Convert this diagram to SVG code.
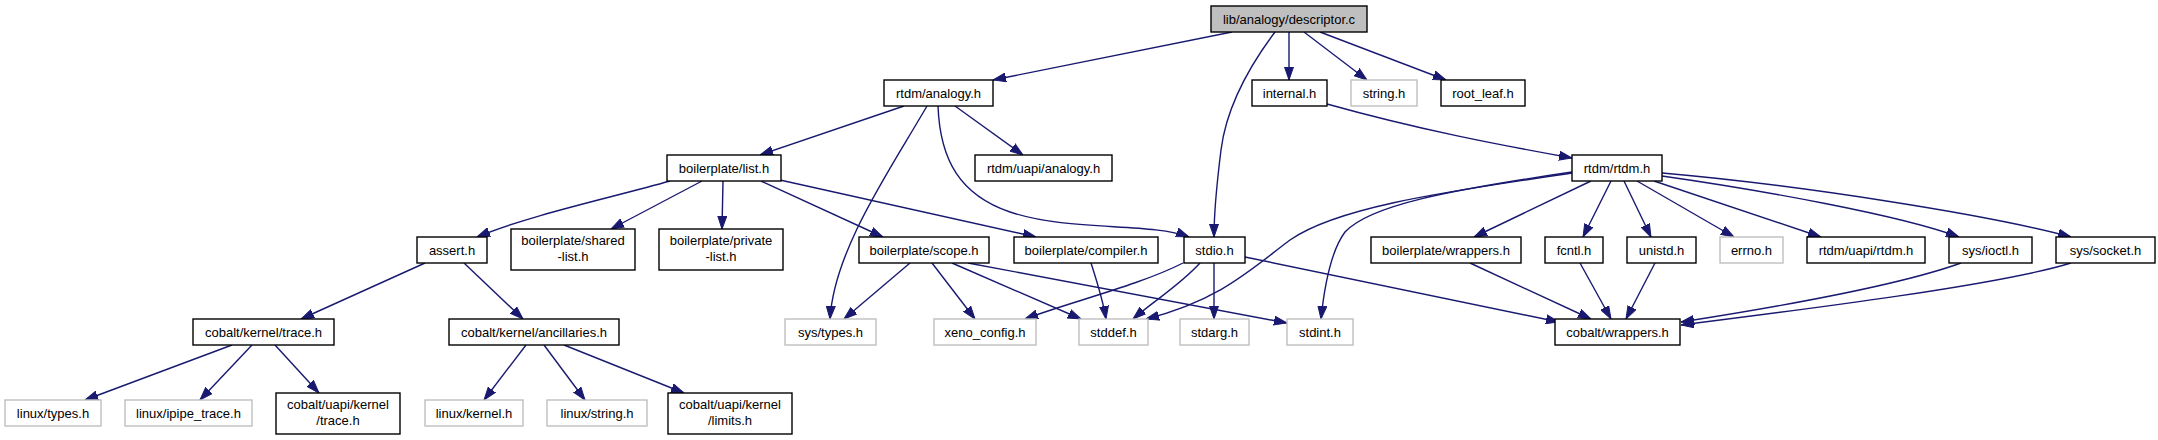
<svg xmlns="http://www.w3.org/2000/svg" width="2158" height="440" viewBox="0 0 2158 440">
<defs>
<marker id="arr" viewBox="0 0 13 10" refX="13" refY="5" markerWidth="13" markerHeight="10" markerUnits="userSpaceOnUse" orient="auto">
<path d="M0,0.5 L13,5 L0,9.5 z" fill="#191970" stroke="#191970" stroke-width="1"/>
</marker>
</defs>
<style>
.n rect{fill:#fff;stroke:#000;stroke-width:1.4}
.g rect{fill:#fff;stroke:#bfbfbf;stroke-width:1.4}
.r rect{fill:#bfbfbf;stroke:#000;stroke-width:1.4}
text{font-family:"Liberation Sans",Arial,sans-serif;font-size:13px;fill:#000;text-anchor:middle}
#edges path{fill:none;stroke:#191970;stroke-width:1.4;marker-end:url(#arr)}
</style>
<rect width="2158" height="440" fill="#fff"/>
<g id="edges">
<path d="M1232,32 L993,80"/>
<path d="M1275,32 C1245,72 1226,110 1221,150 C1216,190 1214,210 1214,237"/>
<path d="M1289,32 L1289,80"/>
<path d="M1304,32 L1367,80"/>
<path d="M1320,32 L1446,80"/>
<path d="M904,106 L760,155"/>
<path d="M927,106 C890,170 834,250 830,319"/>
<path d="M938,106 C940,160 960,195 1010,212 C1070,232 1150,222 1189,237"/>
<path d="M955,106 L1023,155"/>
<path d="M670,181 C610,198 530,215 477,237"/>
<path d="M702,181 L611,229"/>
<path d="M723,181 L722,229"/>
<path d="M761,181 L883,237"/>
<path d="M780,180 L1036,237"/>
<path d="M425,263 L301,319"/>
<path d="M464,263 L523,319"/>
<path d="M232,345 L85,400"/>
<path d="M252,345 L200,400"/>
<path d="M275,345 L319,393"/>
<path d="M526,345 L484,400"/>
<path d="M544,345 L585,400"/>
<path d="M564,345 L684,393"/>
<path d="M910,263 L844,319"/>
<path d="M932,263 L975,319"/>
<path d="M952,263 L1081,319"/>
<path d="M968,263 L1287,323"/>
<path d="M1091,263 C1098,285 1103,300 1106,319"/>
<path d="M1183,263 C1140,285 1070,302 1025,319"/>
<path d="M1200,263 C1180,285 1155,300 1133,319"/>
<path d="M1214,263 L1214,319"/>
<path d="M1245,257 L1559,322"/>
<path d="M1572,173 C1460,190 1340,205 1290,240 C1250,270 1220,300 1146,319"/>
<path d="M1572,172 C1450,190 1370,205 1345,232 C1330,252 1324,290 1321,319"/>
<path d="M1591,181 L1474,237"/>
<path d="M1611,181 L1583,237"/>
<path d="M1624,181 L1651,237"/>
<path d="M1637,181 L1734,237"/>
<path d="M1654,181 L1821,237"/>
<path d="M1662,176 C1760,190 1900,215 1959,237"/>
<path d="M1662,173 C1800,185 1990,215 2071,237"/>
<path d="M1470,263 L1591,319"/>
<path d="M1580,263 L1611,319"/>
<path d="M1655,263 L1626,319"/>
<path d="M1961,263 C1900,285 1790,305 1681,322"/>
<path d="M2071,263 C2000,285 1800,310 1681,325"/>
<path d="M1327,104 C1420,130 1500,145 1572,158"/>
</g>
<g id="n_root" class="r"><rect x="1211" y="6" width="156" height="26"/><text x="1289" y="23.5">lib/analogy/descriptor.c</text></g>
<g id="n_rtdm_analogy" class="n"><rect x="884" y="80" width="109" height="26"/><text x="938.5" y="97.5">rtdm/analogy.h</text></g>
<g id="n_internal" class="n"><rect x="1252" y="80" width="75" height="26"/><text x="1289.5" y="97.5">internal.h</text></g>
<g id="n_string" class="g"><rect x="1351" y="80" width="66" height="26"/><text x="1384" y="97.5">string.h</text></g>
<g id="n_root_leaf" class="n"><rect x="1441" y="80" width="84" height="26"/><text x="1483" y="97.5">root_leaf.h</text></g>
<g id="n_bp_list" class="n"><rect x="667" y="155" width="114" height="26"/><text x="724" y="172.5">boilerplate/list.h</text></g>
<g id="n_uapi_analogy" class="n"><rect x="975" y="155" width="137" height="26"/><text x="1043.5" y="172.5">rtdm/uapi/analogy.h</text></g>
<g id="n_rtdm_rtdm" class="n"><rect x="1572" y="155" width="90" height="26"/><text x="1617" y="172.5">rtdm/rtdm.h</text></g>
<g id="n_assert" class="n"><rect x="417" y="237" width="70" height="26"/><text x="452" y="254.5">assert.h</text></g>
<g id="n_shared_list" class="n"><rect x="511" y="229" width="124" height="41"/><text x="573" y="245">boilerplate/shared</text><text x="573" y="261">-list.h</text></g>
<g id="n_private_list" class="n"><rect x="659" y="229" width="124" height="41"/><text x="721" y="245">boilerplate/private</text><text x="721" y="261">-list.h</text></g>
<g id="n_scope" class="n"><rect x="859" y="237" width="130" height="26"/><text x="924" y="254.5">boilerplate/scope.h</text></g>
<g id="n_compiler" class="n"><rect x="1014" y="237" width="144" height="26"/><text x="1086" y="254.5">boilerplate/compiler.h</text></g>
<g id="n_stdio" class="n"><rect x="1184" y="237" width="61" height="26"/><text x="1214.5" y="254.5">stdio.h</text></g>
<g id="n_bp_wrappers" class="n"><rect x="1371" y="237" width="150" height="26"/><text x="1446" y="254.5">boilerplate/wrappers.h</text></g>
<g id="n_fcntl" class="n"><rect x="1545" y="237" width="58" height="26"/><text x="1574" y="254.5">fcntl.h</text></g>
<g id="n_unistd" class="n"><rect x="1627" y="237" width="69" height="26"/><text x="1661.5" y="254.5">unistd.h</text></g>
<g id="n_errno" class="g"><rect x="1720" y="237" width="63" height="26"/><text x="1751.5" y="254.5">errno.h</text></g>
<g id="n_uapi_rtdm" class="n"><rect x="1807" y="237" width="118" height="26"/><text x="1866" y="254.5">rtdm/uapi/rtdm.h</text></g>
<g id="n_ioctl" class="n"><rect x="1949" y="237" width="83" height="26"/><text x="1990.5" y="254.5">sys/ioctl.h</text></g>
<g id="n_socket" class="n"><rect x="2056" y="237" width="99" height="26"/><text x="2105.5" y="254.5">sys/socket.h</text></g>
<g id="n_kernel_trace" class="n"><rect x="193" y="319" width="141" height="26"/><text x="263.5" y="336.5">cobalt/kernel/trace.h</text></g>
<g id="n_ancillaries" class="n"><rect x="449" y="319" width="170" height="26"/><text x="534" y="336.5">cobalt/kernel/ancillaries.h</text></g>
<g id="n_sys_types" class="g"><rect x="785" y="319" width="91" height="26"/><text x="830.5" y="336.5">sys/types.h</text></g>
<g id="n_xeno_config" class="g"><rect x="934" y="319" width="102" height="26"/><text x="985" y="336.5">xeno_config.h</text></g>
<g id="n_stddef" class="g"><rect x="1079" y="319" width="69" height="26"/><text x="1113.5" y="336.5">stddef.h</text></g>
<g id="n_stdarg" class="g"><rect x="1180" y="319" width="69" height="26"/><text x="1214.5" y="336.5">stdarg.h</text></g>
<g id="n_stdint" class="g"><rect x="1287" y="319" width="66" height="26"/><text x="1320" y="336.5">stdint.h</text></g>
<g id="n_cobalt_wrappers" class="n"><rect x="1555" y="319" width="125" height="26"/><text x="1617.5" y="336.5">cobalt/wrappers.h</text></g>
<g id="n_linux_types" class="g"><rect x="5" y="400" width="96" height="26"/><text x="53" y="417.5">linux/types.h</text></g>
<g id="n_ipipe_trace" class="g"><rect x="125" y="400" width="127" height="26"/><text x="188.5" y="417.5">linux/ipipe_trace.h</text></g>
<g id="n_uapi_trace" class="n"><rect x="276" y="393" width="124" height="41"/><text x="338" y="409">cobalt/uapi/kernel</text><text x="338" y="425">/trace.h</text></g>
<g id="n_linux_kernel" class="g"><rect x="425" y="400" width="98" height="26"/><text x="474" y="417.5">linux/kernel.h</text></g>
<g id="n_linux_string" class="g"><rect x="547" y="400" width="100" height="26"/><text x="597" y="417.5">linux/string.h</text></g>
<g id="n_uapi_limits" class="n"><rect x="668" y="393" width="124" height="41"/><text x="730" y="409">cobalt/uapi/kernel</text><text x="730" y="425">/limits.h</text></g>
</svg>
